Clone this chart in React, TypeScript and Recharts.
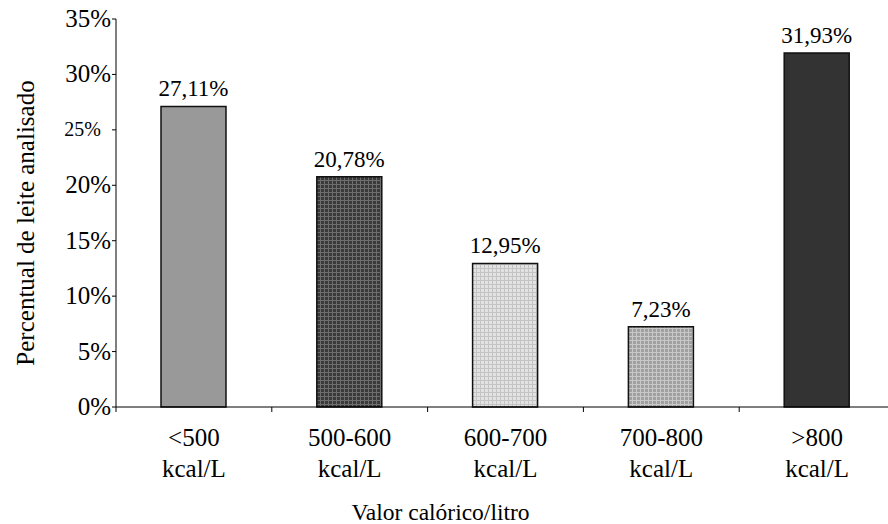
import { BarChart, Bar, XAxis, YAxis, Cell, LabelList } from 'recharts'

const categories = ['<500', '500-600', '600-700', '700-800', '>800']
const percentages = [27.11, 20.78, 12.95, 7.23, 31.93]
const yTicks = [0, 5, 10, 15, 20, 25, 30, 35]
const boundaryTicks = [0, 1, 2, 3, 4, 5]
const fills = ['#999999', 'url(#hatchDark)', 'url(#hatchLight)', 'url(#hatchMid)', '#333333']

const data = categories.map((range, i) => ({ range, value: percentages[i], idx: i + 0.5 }))

const serif = 'Liberation Serif'
const textStyle = { fontFamily: serif, fontSize: 25, fill: '#000' }

const fmtPct = (v: number) => `${v.toFixed(2).replace('.', ',')}%`

function YTick({ x, y, payload }: any) {
  // the 25% label is printed smaller in the source figure
  const small = payload.value === 25
  return (
    <text
      x={x + (small ? -9 : 1)}
      y={y}
      dy={small ? 6 : 8}
      textAnchor="end"
      style={{ ...textStyle, fontSize: small ? 20 : 25 }}
    >
      {payload.value}%
    </text>
  )
}

function CategoryTick({ x, y, payload }: any) {
  return (
    <text x={x} y={y} textAnchor="middle" style={textStyle}>
      <tspan x={x} dy={30}>{payload.value}</tspan>
      <tspan x={x} dy={31}>kcal/L</tspan>
    </text>
  )
}

export default function App() {
  return (
    <div
      style={{
        position: 'absolute',
        left: 0,
        top: 0,
        width: 888,
        height: 524,
        overflow: 'hidden',
        background: '#fff',
        fontFamily: serif,
      }}
    >
      <BarChart
        width={900}
        height={524}
        data={data}
        margin={{ top: 19, right: 5, left: 6, bottom: 0 }}
      >
        <defs>
          <pattern id="hatchDark" width="4" height="4" patternUnits="userSpaceOnUse">
            <rect width="4" height="4" fill="#3a3a3a" />
            <rect width="4" height="1" fill="#6e6e6e" />
            <rect width="1" height="4" fill="#6e6e6e" />
          </pattern>
          <pattern id="hatchLight" width="4" height="4" patternUnits="userSpaceOnUse">
            <rect width="4" height="4" fill="#e2e2e2" />
            <rect width="4" height="1" fill="#c4c4c4" />
            <rect width="1" height="4" fill="#c4c4c4" />
          </pattern>
          <pattern id="hatchMid" width="4" height="4" patternUnits="userSpaceOnUse">
            <rect width="4" height="4" fill="#a0a0a0" />
            <rect width="4" height="1" fill="#c8c8c8" />
            <rect width="1" height="4" fill="#c8c8c8" />
          </pattern>
        </defs>
        {/* numeric axis only draws the baseline and the ticks between categories */}
        <XAxis
          xAxisId={0}
          type="number"
          dataKey="idx"
          domain={[0, 5]}
          allowDataOverflow
          ticks={boundaryTicks}
          height={1}
          stroke="#000"
          tickSize={5}
          tick={() => <g />}
        />
        <XAxis
          xAxisId={1}
          dataKey="range"
          height={116}
          axisLine={false}
          tickLine={false}
          interval={0}
          tick={<CategoryTick />}
          label={{
            content: ({ viewBox }: any) => (
              <text
                x={viewBox.x + viewBox.width / 2 - 65}
                y={viewBox.y + 112}
                textAnchor="middle"
                style={{ ...textStyle, fontSize: 23.5 }}
              >
                Valor calórico/litro
              </text>
            ),
          }}
        />
        <YAxis
          width={110}
          domain={[0, 35]}
          ticks={yTicks}
          stroke="#000"
          tickSize={4}
          tick={<YTick />}
          label={{
            content: ({ viewBox }: any) => {
              const cx = viewBox.x + 19
              const cy = viewBox.y + viewBox.height / 2 + 10
              return (
                <text
                  x={cx}
                  y={cy}
                  transform={`rotate(-90, ${cx}, ${cy})`}
                  textAnchor="middle"
                  dominantBaseline="central"
                  style={textStyle}
                >
                  Percentual de leite analisado
                </text>
              )
            },
          }}
        />
        <Bar xAxisId={1} dataKey="value" barSize={65} stroke="#111" strokeWidth={1.5} isAnimationActive={false}>
          {data.map((d, i) => (
            <Cell key={d.range} fill={fills[i]} />
          ))}
          <LabelList
            dataKey="value"
            position="top"
            offset={10}
            formatter={(v: any) => fmtPct(Number(v))}
            style={{ ...textStyle, fontSize: 23 }}
          />
        </Bar>
      </BarChart>
    </div>
  )
}
